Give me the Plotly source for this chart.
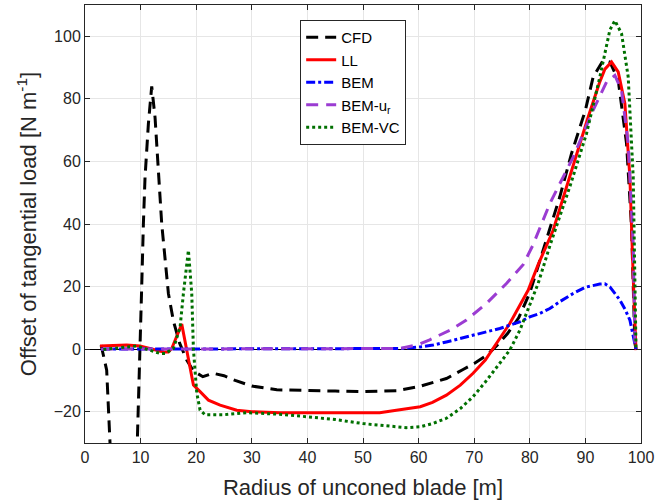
import plotly.graph_objects as go

# ---------------- data ----------------
cfd_r = [2.9, 3.9, 4.5, 5.5, 7.0, 8.5, 9.4, 9.8, 10.2, 10.5, 10.8, 11.4, 12.0, 12.6, 13.2,
         13.8, 15.0, 15.9, 17.0, 18.3, 19.5, 21.2, 23.0, 25.0, 27.0, 30.0, 34.5, 40.0, 45.0,
         50.0, 56.0, 60.0, 63.0, 65.0, 68.0, 70.0, 72.3, 74.0, 76.0, 78.0, 80.0, 82.4, 85.4,
         87.5, 90.0, 91.4, 93.2, 94.4, 95.9, 97.4, 98.3, 98.9, 99.1]
cfd_v = [1.3, -6.7, -30.0, -70.0, -95.0, -70.0, -30.0, -8.0, 20.0, 40.0, 55.0, 72.0, 84.0, 74.0, 57.0,
         40.0, 17.8, 9.0, 2.0, -3.5, -7.0, -8.8, -7.7, -8.5, -10.0, -11.8, -13.0, -13.3, -13.4,
         -13.6, -13.3, -12.0, -10.5, -9.4, -6.5, -4.6, -1.9, 1.0, 5.0, 10.0, 18.0, 31.6, 48.7,
         62.5, 76.4, 87.0, 92.3, 91.8, 86.0, 65.7, 39.0, 1.9, 0.0]

ll_r = [2.7, 7.5, 9.9, 12.0, 14.1, 15.0, 15.6, 17.4, 19.5, 20.7, 22.2, 24.3, 27.3, 30.0, 35.0,
        40.0, 45.0, 50.0, 53.0, 56.0, 58.0, 60.3, 62.5, 65.0, 67.5, 69.8, 72.0, 73.4, 76.4,
        79.7, 81.5, 84.2, 87.5, 90.5, 92.5, 93.5, 94.7, 95.9, 97.1, 98.0, 98.6, 99.1]
ll_v = [1.0, 1.3, 1.0, 0.0, -0.9, -0.9, 0.2, 8.0, -11.5, -13.6, -16.3, -17.9, -19.5, -20.0, -20.3,
        -20.3, -20.3, -20.3, -20.3, -19.5, -19.0, -18.4, -17.0, -14.7, -11.5, -7.7, -3.5, 0.2, 8.2,
        18.8, 27.0, 38.0, 57.2, 74.2, 85.0, 89.5, 91.8, 88.6, 78.5, 55.0, 23.0, -0.3]

bem_r = [2.9, 10.0, 20.0, 30.0, 40.0, 50.0, 56.7, 60.3, 62.6, 65.0, 68.6, 71.5, 74.6, 78.2,
         80.0, 81.8, 83.6, 85.5, 87.8, 90.0, 92.6, 93.5, 94.4, 96.2, 97.2, 98.0, 98.9, 99.1]
bem_v = [0.0, 0.0, 0.0, 0.0, 0.0, 0.0, 0.2, 0.7, 1.3, 2.3, 3.9, 5.2, 6.6, 8.7,
         10.3, 11.4, 13.0, 15.3, 17.8, 19.8, 20.8, 20.9, 19.9, 15.7, 12.5, 9.3, 1.8, 0.0]

bemur_r = [2.9, 10.0, 20.0, 30.0, 40.0, 50.0, 56.7, 60.0, 62.0, 65.6, 68.6, 72.2, 75.8, 78.8,
           80.5, 83.6, 87.8, 91.4, 93.8, 95.3, 96.5, 97.7, 98.6, 98.9, 99.1]
bemur_v = [0.0, 0.0, 0.0, 0.0, 0.0, 0.0, 0.2, 1.5, 3.0, 6.0, 9.3, 14.6, 21.0, 27.0,
           33.0, 46.5, 61.4, 76.4, 85.4, 87.5, 82.7, 65.7, 33.7, 2.0, 0.0]

vc_r = [3.3, 9.3, 13.5, 14.4, 15.9, 16.8, 17.1, 17.7, 18.3, 18.6, 19.2, 19.5, 20.1, 20.7, 21.6,
        24.8, 29.0, 35.0, 39.9, 45.0, 50.0, 55.0, 57.8, 60.3, 62.5, 65.0, 67.5, 69.8, 72.0,
        74.6, 76.4, 78.2, 80.0, 81.5, 83.6, 87.2, 90.2, 92.6, 94.4, 95.3, 96.5, 97.7, 98.6,
        98.9, 99.1]
vc_v = [-0.1, 1.0, -1.4, -1.4, 0.2, 5.0, 7.0, 17.8, 26.3, 31.6, 17.8, 0.0, -14.0, -19.5, -21.0,
        -21.0, -20.3, -20.8, -21.6, -22.5, -23.8, -24.6, -25.1, -24.8, -23.8, -22.1, -19.0, -15.2, -10.5,
        -4.5, -0.3, 6.0, 14.0, 21.0, 33.0, 51.9, 68.9, 87.0, 102.0, 105.0, 100.9, 87.0, 55.0,
        23.0, 0.0]

x_ticks = [0, 10, 20, 30, 40, 50, 60, 70, 80, 90, 100]
y_ticks = [-20, 0, 20, 40, 60, 80, 100]

# ---------------- figure ----------------
FONT = "Liberation Sans, Arial, Helvetica, sans-serif"
TXT = "#262626"

fig = go.Figure()
fig.add_trace(go.Scatter(x=cfd_r, y=cfd_v, mode="lines", name="CFD", legendgroup="a",
                         line=dict(color="black", width=3, dash="12px,7px")))
fig.add_trace(go.Scatter(x=ll_r, y=ll_v, mode="lines", name="LL", legendgroup="b",
                         line=dict(color="#FF0000", width=3)))
fig.add_trace(go.Scatter(x=bem_r, y=bem_v, mode="lines", name="BEM", legendgroup="c",
                         line=dict(color="#0000FF", width=3, dash="9px,3px,3px,3px")))
fig.add_trace(go.Scatter(x=bemur_r, y=bemur_v, mode="lines", name="BEM-u<sub>r</sub>",
                         legendgroup="d",
                         line=dict(color="rgb(155,60,210)", width=3, dash="12px,8px")))
fig.add_trace(go.Scatter(x=vc_r, y=vc_v, mode="lines", name="BEM-VC", legendgroup="e",
                         line=dict(color="rgb(0,112,0)", width=3, dash="dot")))

axis_common = dict(
    showline=True, linecolor=TXT, linewidth=1, mirror="ticks",
    ticks="inside", ticklen=5, tickcolor=TXT, tickwidth=1,
    showgrid=True, gridcolor="#e6e6e6", gridwidth=1,
    tickfont=dict(family=FONT, size=16, color=TXT),
)

fig.update_xaxes(range=[0, 100], tickvals=x_ticks, zeroline=False,
                 title=dict(text="Radius of unconed blade [m]",
                            font=dict(family=FONT, size=22, color=TXT), standoff=14),
                 **axis_common)
fig.update_yaxes(range=[-30, 110], tickvals=y_ticks, zeroline=True,
                 zerolinecolor="black", zerolinewidth=1,
                 title=dict(text="Offset of tangential load [N m<sup>-1</sup>]",
                            font=dict(family=FONT, size=22, color=TXT), standoff=10),
                 **axis_common)

fig.update_layout(
    width=672, height=504,
    margin=dict(l=85, r=31, t=5, b=61, autoexpand=False),
    paper_bgcolor="white", plot_bgcolor="white",
    font=dict(family=FONT, color=TXT),
    showlegend=True,
    legend=dict(x=0.387, y=0.966, xanchor="left", yanchor="top",
                bgcolor="white", bordercolor=TXT, borderwidth=1,
                font=dict(family=FONT, size=15, color="black"),
                tracegroupgap=3, traceorder="normal"),
)

fig.write_html("out.html")
